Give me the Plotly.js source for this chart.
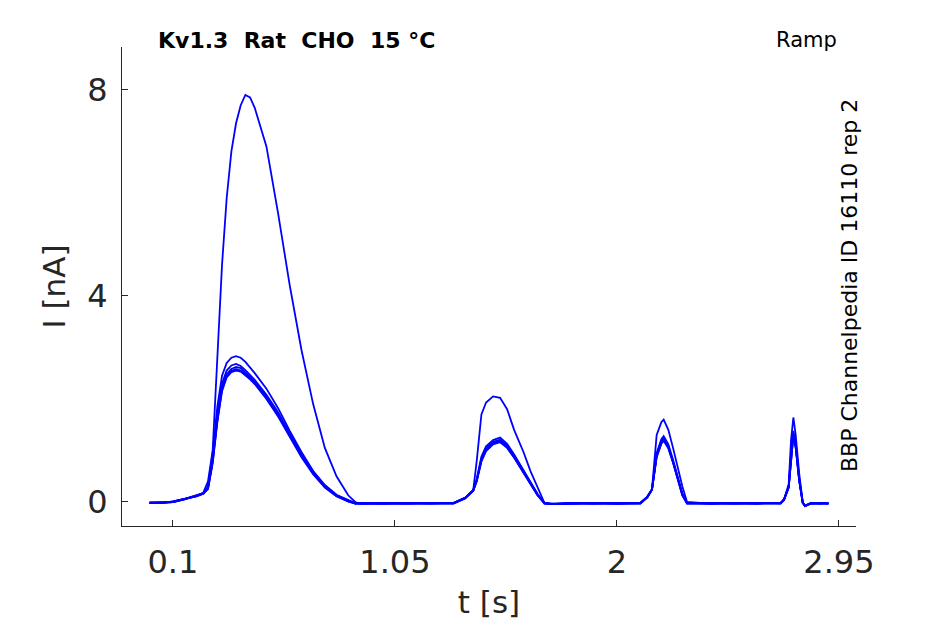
<!DOCTYPE html>
<html>
<head>
<meta charset="utf-8">
<script src="https://cdn.plot.ly/plotly-3.0.1.min.js"></script>
<style>html,body{margin:0;padding:0;background:#fff;}#chart{width:945px;height:624px;}</style>
</head>
<body>
<div id="chart"></div>
<script>
// time (s)
const t = [0, 0.05, 0.1, 0.15, 0.2, 0.23, 0.25, 0.27, 0.29, 0.31,
  0.33, 0.35, 0.37, 0.39, 0.41, 0.43, 0.45, 0.5, 0.55, 0.6,
  0.65, 0.7, 0.75, 0.8, 0.85, 0.88, 0.9, 1.0, 1.1, 1.2,
  1.3, 1.35, 1.385, 1.4, 1.42, 1.44, 1.47, 1.5, 1.53, 1.56,
  1.6, 1.63, 1.66, 1.69, 1.72, 1.8, 1.9, 2.0, 2.1, 2.13,
  2.15, 2.17, 2.19, 2.2, 2.22, 2.24, 2.26, 2.28, 2.3, 2.4,
  2.5, 2.6, 2.7, 2.715, 2.735, 2.745, 2.755, 2.765, 2.78, 2.795,
  2.805, 2.83, 2.87, 2.905];

// currents (nA), one per sweep
const sweep1 = [-0.02, -0.01, 0.0, 0.06, 0.12, 0.18, 0.4, 1.0, 2.9, 4.6,
  5.9, 6.8, 7.35, 7.7, 7.9, 7.85, 7.65, 6.9, 5.6, 4.2,
  2.95, 1.9, 1.05, 0.5, 0.13, 0.0, -0.03, -0.03, -0.02, -0.03,
  -0.02, 0.08, 0.23, 0.8, 1.7, 1.93, 2.05, 2.02, 1.8, 1.4,
  0.97, 0.6, 0.28, -0.02, -0.04, -0.03, -0.02, -0.03, -0.02, 0.1,
  0.25, 1.3, 1.55, 1.6, 1.4, 1.05, 0.65, 0.3, 0.0, -0.03,
  -0.02, -0.03, -0.02, 0.05, 0.35, 1.2, 1.64, 1.3, 0.55, 0.0,
  -0.08, -0.03, -0.02, -0.03];
const sweep2 = [-0.02, -0.01, 0.0, 0.06, 0.12, 0.17, 0.3, 0.95, 1.85, 2.45,
  2.7, 2.8, 2.83, 2.8, 2.72, 2.62, 2.5, 2.2, 1.82, 1.38,
  0.97, 0.6, 0.33, 0.14, 0.03, -0.02, -0.03, -0.03, -0.02, -0.03,
  -0.02, 0.08, 0.23, 0.45, 0.88, 1.08, 1.2, 1.25, 1.13, 0.92,
  0.62, 0.4, 0.16, -0.02, -0.04, -0.03, -0.02, -0.03, -0.02, 0.1,
  0.25, 0.95, 1.22, 1.28, 1.12, 0.82, 0.47, 0.16, -0.02, -0.03,
  -0.02, -0.03, -0.02, 0.05, 0.3, 0.95, 1.38, 1.12, 0.46, -0.01,
  -0.08, -0.03, -0.02, -0.03];
const sweep3 = [-0.02, -0.01, 0.0, 0.05, 0.12, 0.17, 0.28, 0.85, 1.7, 2.3,
  2.55, 2.65, 2.68, 2.64, 2.56, 2.47, 2.37, 2.08, 1.74, 1.33,
  0.94, 0.59, 0.32, 0.13, 0.02, -0.03, -0.03, -0.02, -0.03, -0.02,
  -0.03, 0.07, 0.22, 0.42, 0.84, 1.04, 1.17, 1.21, 1.1, 0.9,
  0.6, 0.38, 0.15, -0.03, -0.04, -0.02, -0.03, -0.02, -0.03, 0.09,
  0.24, 0.92, 1.18, 1.24, 1.09, 0.79, 0.45, 0.15, -0.03, -0.02,
  -0.03, -0.02, -0.03, 0.04, 0.29, 0.92, 1.34, 1.1, 0.44, -0.02,
  -0.07, -0.02, -0.03, -0.02];
const sweep4 = [-0.01, -0.02, 0.01, 0.06, 0.11, 0.16, 0.27, 0.8, 1.62, 2.22,
  2.48, 2.58, 2.62, 2.6, 2.52, 2.43, 2.33, 2.05, 1.7, 1.3,
  0.9, 0.56, 0.3, 0.12, 0.01, -0.03, -0.02, -0.03, -0.02, -0.03,
  -0.02, 0.08, 0.23, 0.43, 0.82, 1.02, 1.15, 1.19, 1.08, 0.88,
  0.58, 0.36, 0.14, -0.02, -0.03, -0.03, -0.02, -0.03, -0.02, 0.1,
  0.25, 0.9, 1.16, 1.22, 1.07, 0.78, 0.44, 0.14, -0.02, -0.03,
  -0.02, -0.03, -0.02, 0.05, 0.3, 0.9, 1.32, 1.08, 0.43, -0.01,
  -0.08, -0.03, -0.02, -0.03];
const sweep5 = [-0.02, -0.01, 0.0, 0.05, 0.12, 0.17, 0.26, 0.78, 1.58, 2.18,
  2.44, 2.54, 2.58, 2.55, 2.48, 2.4, 2.3, 2.02, 1.68, 1.28,
  0.89, 0.55, 0.29, 0.11, 0.01, -0.02, -0.03, -0.02, -0.03, -0.02,
  -0.03, 0.07, 0.22, 0.41, 0.8, 1.0, 1.13, 1.17, 1.06, 0.87,
  0.57, 0.35, 0.13, -0.03, -0.04, -0.02, -0.03, -0.02, -0.03, 0.09,
  0.24, 0.88, 1.14, 1.2, 1.05, 0.77, 0.43, 0.13, -0.03, -0.02,
  -0.03, -0.02, -0.03, 0.04, 0.28, 0.88, 1.3, 1.06, 0.42, -0.02,
  -0.07, -0.02, -0.03, -0.02];
const sweep6 = [-0.01, -0.02, 0.01, 0.06, 0.11, 0.16, 0.25, 0.75, 1.55, 2.15,
  2.42, 2.52, 2.55, 2.53, 2.46, 2.38, 2.29, 2.0, 1.66, 1.26,
  0.87, 0.54, 0.28, 0.11, 0.01, -0.03, -0.02, -0.03, -0.02, -0.03,
  -0.02, 0.08, 0.22, 0.4, 0.79, 0.99, 1.12, 1.16, 1.05, 0.86,
  0.56, 0.34, 0.13, -0.02, -0.03, -0.03, -0.02, -0.03, -0.02, 0.1,
  0.24, 0.87, 1.13, 1.19, 1.04, 0.76, 0.42, 0.13, -0.02, -0.03,
  -0.02, -0.03, -0.02, 0.05, 0.28, 0.87, 1.28, 1.05, 0.41, -0.01,
  -0.08, -0.03, -0.02, -0.03];
const sweeps = [sweep1, sweep2, sweep3, sweep4, sweep5, sweep6];

const xTicks = [0.1, 1.05, 2, 2.95];
const xTickText = ['0.1', '1.05', '2', '2.95'];
const yTicks = [0, 4, 8];
const yTickText = ['0', '4', '8'];

const titleText = 'Kv1.3\u00a0\u00a0Rat\u00a0\u00a0CHO\u00a0\u00a015 °C';
const protocolText = 'Ramp';
const idText = 'BBP Channelpedia ID 16110 rep 2';

const traces = sweeps.map(s => ({
  x: t, y: s, type: 'scatter', mode: 'lines',
  line: {color: '#0000ff', width: 1.8},
  hoverinfo: 'skip', showlegend: false
}));

const axisColor = '#262626';
const fam = 'DejaVu Sans, sans-serif';
const layout = {
  width: 945, height: 624,
  margin: {l: 122, r: 89, t: 47, b: 98},
  paper_bgcolor: '#ffffff', plot_bgcolor: '#ffffff',
  font: {family: fam, color: axisColor},
  showlegend: false,
  xaxis: {
    range: [-0.118, 3.023], tickmode: 'array', tickvals: xTicks, ticktext: xTickText,
    ticks: 'inside', ticklen: 6, tickwidth: 1, tickcolor: axisColor,
    showline: true, linecolor: axisColor, linewidth: 1,
    showgrid: false, zeroline: false, ticklabelstandoff: 8,
    tickfont: {size: 32, color: axisColor, family: fam},
    title: {text: 't [s]', font: {size: 31, color: axisColor, family: fam}, standoff: 10}
  },
  yaxis: {
    range: [-0.466, 8.83], tickmode: 'array', tickvals: yTicks, ticktext: yTickText,
    ticks: 'inside', ticklen: 6, tickwidth: 1, tickcolor: axisColor,
    showline: true, linecolor: axisColor, linewidth: 1,
    showgrid: false, zeroline: false, ticklabelstandoff: 7,
    tickfont: {size: 32, color: axisColor, family: fam},
    title: {text: 'I [nA]', font: {size: 31, color: axisColor, family: fam}, standoff: 12}
  },
  annotations: [
    {text: titleText, xref: 'paper', yref: 'paper', x: 0.238, y: 1.0146,
     xanchor: 'center', yanchor: 'middle', showarrow: false,
     font: {size: 22, color: '#000000', family: fam, weight: 'bold'}},
    {text: protocolText, xref: 'paper', yref: 'paper', x: 0.932, y: 1.0146,
     xanchor: 'center', yanchor: 'middle', showarrow: false,
     font: {size: 21, color: '#000000', family: fam}},
    {text: idText, xref: 'paper', yref: 'paper', x: 0.9905, y: 0.501,
     xanchor: 'center', yanchor: 'middle', showarrow: false, textangle: -90,
     font: {size: 22, color: '#000000', family: fam}}
  ]
};

Plotly.newPlot('chart', traces, layout, {displayModeBar: false, staticPlot: true});
</script>
</body>
</html>
